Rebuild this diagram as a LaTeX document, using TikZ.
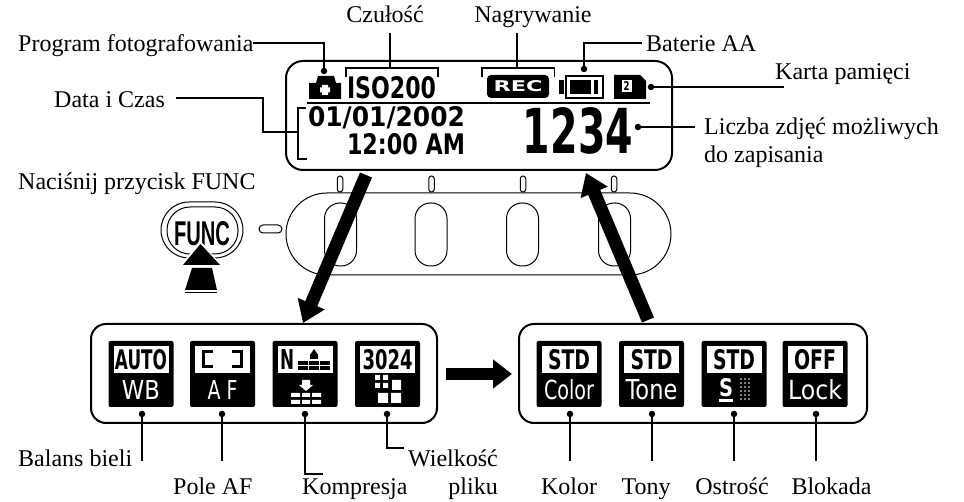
\documentclass[tikz,border=0pt]{standalone}
\usepackage{fontspec}
\usepackage{graphicx}
\setmainfont{Liberation Serif}
\newfontfamily\lcdf{DejaVu Sans}
\newfontfamily\funcf{Liberation Sans}
\usetikzlibrary{arrows.meta}
\newcommand\lcdicon[7]{% name, x-centre, top width, top text, bottom width, bottom height, bottom text
  \node[iconbk] (#1) at (#2,374) {};
  \if\relax\detokenize{#4}\relax
  \node[iconwt] (#1t) at (#2,359.5) {};
  \else
  \node[iconwt] (#1t) at (#2,359.5) {\resizebox{#3pt}{20pt}{\lcdf\bfseries #4}};
  \fi
  \if\relax\detokenize{#7}\relax\else
  \node[inner sep=0pt,text=white] (#1b) at (#2,390) {\resizebox{#5pt}{#6pt}{\lcdf #7}};\fi
}
\tikzset{
  lbl/.style={inner sep=0pt,font=\fontsize{24}{28}\selectfont,text=black},
  conn/.style={line width=1.2pt,black},
  pt/.style={circle,fill=black,inner sep=0pt,minimum size=6.5pt},
  lcdbox/.style={draw=black,line width=2pt,fill=white,rounded corners=17pt,inner sep=0pt},
  softbox/.style={draw=black,line width=1pt,fill=white,inner sep=0pt},
  iconbk/.style={fill=black,rounded corners=2pt,minimum width=65pt,minimum height=66pt,inner sep=0pt},
  iconwt/.style={fill=white,minimum width=55pt,minimum height=27pt,inner sep=0pt},
  bigarrow/.style={line width=13pt,black,-{Triangle[length=21pt,width=28pt]}},
}
\begin{document}
\begin{tikzpicture}[x=1pt,y=-1pt]
\useasboundingbox (0,0) rectangle (964,502);
% ---- keypad
\node[softbox,rounded corners=41pt,minimum width=385pt,minimum height=82pt] (pad) at (478.5,234) {};
\foreach \n/\x in {b1/340.5,b2/431,b3/522.5,b4/614.5}
  \node[softbox,rounded corners=15.5pt,minimum width=32pt,minimum height=63pt] (\n) at (\x,234.5) {};
\foreach \n/\x in {k1/340,k2/431.5,k3/523,k4/614}
  \node[softbox,rounded corners=2.7pt,minimum width=5.5pt,minimum height=16pt] (\n) at (\x,184) {};
\node[softbox,rounded corners=4pt,minimum width=23pt,minimum height=8pt] (dash) at (270.5,229) {};
% ---- LCD
\node[lcdbox,minimum width=386pt,minimum height=109pt] (lcd) at (479,115.5) {};
\coordinate (d1) at (307,103); \coordinate (d2) at (650,103);
\draw[line width=2pt] (d1) -- (d2);
% camera
\fill (309,99) -- (309,83) -- (316,83) -- (318,76) -- (334,76) -- (336,83) -- (341,83) -- (341,99) -- cycle;
\fill[white] (322,85) rectangle (328,95) (320,87.5) rectangle (330,92.5);
\node[pt] (camdot) at (324,71) {};
% ISO bracket
\coordinate (isoa) at (346,77); \coordinate (isob) at (438,77);
\draw[line width=1.5pt] (isoa) -- (346,68) -- (438,68) -- (isob);
\node[inner sep=0pt] (iso) at (391.5,87.5) {\resizebox{89pt}{22pt}{\lcdf\bfseries ISO200}};
% REC
\coordinate (reca) at (482,77); \coordinate (recb) at (554.5,77);
\draw[line width=1.5pt] (reca) -- (482,68) -- (554.5,68) -- (recb);
\node[fill=black,rounded corners=4pt,minimum width=62pt,minimum height=23pt,inner sep=0pt] (rec) at (518,86.5) {};
\node[inner sep=0pt,text=white] (rect) at (518,86.5) {\resizebox{49pt}{11pt}{\lcdf\bfseries REC}};
% battery
\node[draw=black,line width=2pt,fill=white,minimum width=37pt,minimum height=22pt,inner sep=0pt] (bat) at (584,87) {};
\fill (559,80) rectangle (564,94);
\fill (570,80) rectangle (591,94);
\fill (594,80) rectangle (598,94);
\node[pt] (batdot) at (584,69) {};
% card
\fill (614,75) -- (640,75) -- (646,81) -- (646,99) -- (614,99) -- cycle;
\node[fill=white,minimum width=10pt,minimum height=12pt,inner sep=0pt] (card) at (626.5,86) {\resizebox{6pt}{9pt}{\lcdf\bfseries 2}};
\node[pt] (carddot) at (651,87) {};
% date bracket + text
\coordinate (dta) at (306,108); \coordinate (dtb) at (307,159); \coordinate (dtm) at (298,132);
\draw[line width=1.5pt] (dta) -- (298,108) -- (298,159) -- (dtb);
\node[inner sep=0pt] (date) at (386.5,118) {\resizebox{157pt}{20pt}{\lcdf\bfseries 01/01/2002}};
\node[inner sep=0pt] (time) at (406,144.5) {\resizebox{118pt}{21pt}{\lcdf\bfseries 12:00 AM}};
\node[inner sep=0pt] (cnt) at (578,131) {\resizebox{110pt}{46pt}{\lcdf\bfseries 1234}};
\node[pt] (cntdot) at (638,127) {};
% ---- top labels
\node[lbl,anchor=base west] (prog) at (18,52) {Program fotografowania};
\node[lbl,anchor=base] (czu) at (385,23) {Czułość};
\node[lbl,anchor=base] (nag) at (533,23) {Nagrywanie};
\node[lbl,anchor=base west] (bat2) at (646,52) {Baterie AA};
\node[lbl,anchor=base west] (kar) at (775,80) {Karta pamięci};
\node[lbl,anchor=base west] (lic) at (704,135) {Liczba zdjęć możliwych};
\node[lbl,anchor=base west] (lic2) at (704,163) {do zapisania};
\node[lbl,anchor=base west] (dat) at (54,108) {Data i Czas};
\node[lbl,anchor=base west] (nac) at (18,190) {Naciśnij przycisk FUNC};
\coordinate (c1) at (253,43); \coordinate (c2) at (390,33); \coordinate (c3) at (390,68);
\coordinate (c4) at (517,33); \coordinate (c5) at (517,68); \coordinate (c6) at (642,43);
\coordinate (c7) at (784,87); \coordinate (c8) at (695,127); \coordinate (c9) at (176,98);
\coordinate (c10) at (263,115);
\draw[conn] (c1) -| (camdot);
\draw[conn] (c2) -- (c3);
\draw[conn] (c4) -- (c5);
\draw[conn] (c6) -| (batdot);
\draw[conn] (carddot) -- (c7);
\draw[conn] (cntdot) -- (c8);
\draw[conn] (c9) -| (c10) |- (dtm);
% ---- FUNC button
\node[softbox,rounded corners=28pt,minimum width=82pt,minimum height=56pt] (fo) at (202,230) {};
\node[softbox,rounded corners=23pt,minimum width=71pt,minimum height=47pt] (fi) at (202.5,230.5) {};
\node[inner sep=0pt] (func) at (202,234) {\resizebox{56pt}{24pt}{\funcf\bfseries FUNC}};
\fill[white] (200.5,241) -- (224,268) -- (224,296) -- (178,296) -- (178,268) -- cycle;
\fill (200.5,244) -- (220,265) -- (183,265) -- cycle;
\fill (192,268) -- (212,268) -- (217,290) -- (185,290) -- cycle;
\fill (185,292) rectangle (217,293.5);
% ---- lower panels
\node[lcdbox,rounded corners=15pt,minimum width=346pt,minimum height=99pt] (pl) at (264,373.5) {};
\node[lcdbox,rounded corners=15pt,minimum width=348pt,minimum height=99pt] (pr) at (693,373.5) {};
\lcdicon{i1}{141}{52}{AUTO}{38}{19}{WB}
\lcdicon{i2}{222.5}{0}{}{30}{19}{A F}
\lcdicon{i3}{305}{0}{}{0}{0}{}
\lcdicon{i4}{387.5}{50}{3024}{0}{0}{}
\lcdicon{i5}{569}{42}{STD}{50}{20}{Color}
\lcdicon{i6}{651.5}{42}{STD}{52}{20}{Tone}
\lcdicon{i7}{734}{42}{STD}{0}{0}{}
\lcdicon{i8}{815}{42}{OFF}{54}{20}{Lock}
% focus brackets
\draw[line width=3pt] (213,351.5) -| (203.5,367) -- (213,367);
\draw[line width=3pt] (232,351.5) -| (241.5,367) -- (232,367);
% compression icon
\node[inner sep=0pt] (nn) at (287,359.5) {\resizebox{14pt}{20pt}{\lcdf\bfseries N}};
\fill (314,349) -- (318,355) -- (310,355) -- cycle;
\fill (310,354) rectangle (318,359);
\fill (298,361) rectangle (330,370);
\draw[white,line width=.7pt] (298,365.5) -- (330,365.5) (308.5,361) -- (308.5,370) (319.5,361) -- (319.5,370);
\fill[white] (302,380) rectangle (310,385) (299,385) -- (313,385) -- (306,391) -- cycle;
\fill[white] (291,393) rectangle (300,397) (302,393) rectangle (310,397) (312,393) rectangle (321,397)
             (291,400) rectangle (300,404) (302,400) rectangle (310,404) (312,400) rectangle (321,404);
% size icon
\fill[white] (375,375) rectangle (380,380) (383,375) rectangle (388,380)
             (375,383) rectangle (380,388) (383,383) rectangle (388,388)
             (392,380) rectangle (401,390) (378,393) rectangle (388,403) (391,393) rectangle (401,403);
% sharpness icon
\node[inner sep=0pt,text=white] (ss) at (726,388) {\resizebox{14pt}{18pt}{\lcdf\bfseries S}};
\fill[white] (719,399) rectangle (733,402);
\foreach \x in {741,745,749}\foreach \y in {379,383,387,391,395,399}
  \fill[white] (\x,\y) circle (.9pt);
% ---- dots and leaders
\foreach \n/\x in {a1/142,a2/222,a3/305,a4/387,a5/570,a6/652,a7/734,a8/816}
  \node[pt] (\n) at (\x,414) {};
\node[lbl,anchor=base west] (l1) at (18,466) {Balans bieli};
\node[lbl,anchor=base west] (l2) at (173,494) {Pole AF};
\node[lbl,anchor=base west] (l3) at (302,494) {Kompresja};
\node[lbl,anchor=base east] (l4) at (498,466) {Wielkość};
\node[lbl,anchor=base east] (l4b) at (498,494) {pliku};
\node[lbl,anchor=base] (l5) at (569,494) {Kolor};
\node[lbl,anchor=base] (l6) at (646,494) {Tony};
\node[lbl,anchor=base] (l7) at (732,494) {Ostrość};
\node[lbl,anchor=base] (l8) at (831.5,494) {Blokada};
\coordinate (e1) at (142,461); \coordinate (e2) at (222,461);
\coordinate (e3) at (323,474); \coordinate (e4) at (404,448);
\coordinate (e5) at (570,461); \coordinate (e6) at (652,461);
\coordinate (e7) at (734,461); \coordinate (e8) at (816,461);
\draw[conn] (a1) -- (e1);
\draw[conn] (a2) -- (e2);
\draw[conn] (a3) |- (e3);
\draw[conn] (a4) |- (e4);
\draw[conn] (a5) -- (e5);
\draw[conn] (a6) -- (e6);
\draw[conn] (a7) -- (e7);
\draw[conn] (a8) -- (e8);
% ---- big arrows
\coordinate (ar1) at (366,175); \coordinate (ar2) at (303,323);
\coordinate (ar3) at (648,320); \coordinate (ar4) at (586,173);
\coordinate (ar5) at (446,374); \coordinate (ar6) at (512,374);
\draw[bigarrow] (ar1) -- (ar2);
\draw[bigarrow] (ar3) -- (ar4);
\draw[line width=11.5pt,-{Triangle[length=19pt,width=28pt]}] (ar5) -- (ar6);
\end{tikzpicture}
\end{document}
